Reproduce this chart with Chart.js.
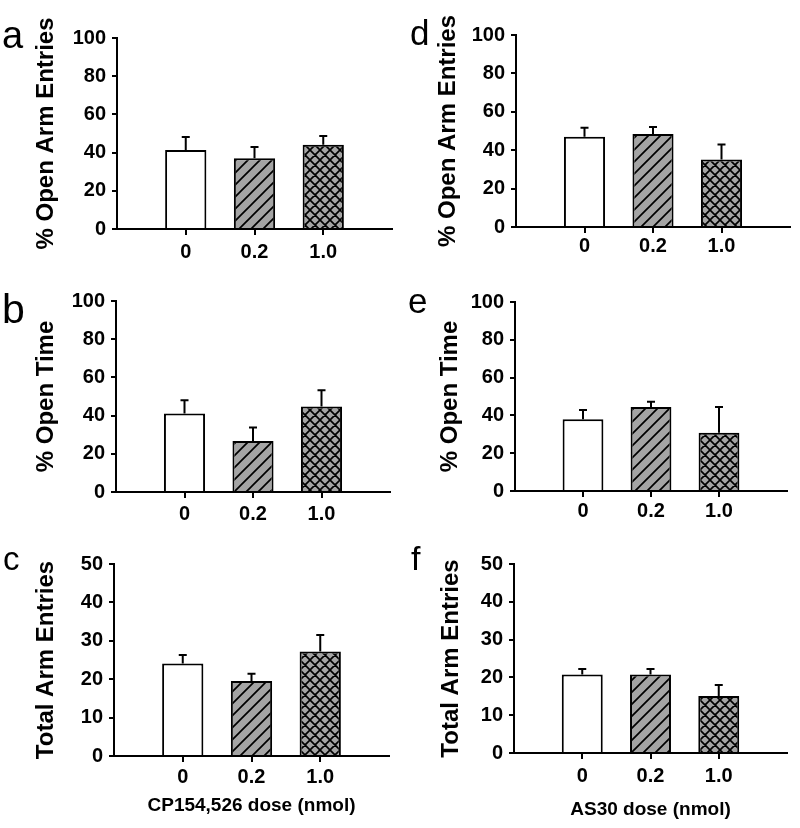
<!DOCTYPE html>
<html>
<head>
<meta charset="utf-8">
<script src="https://cdn.jsdelivr.net/npm/chart.js@4.4.1/dist/chart.umd.min.js"></script>
<style>
  body { margin: 0; background: #fff; }
  #page { position: relative; width: 800px; height: 828px; overflow: hidden; }
  canvas { position: absolute; }
  .lbl { position: absolute; font-family: 'Liberation Sans', Arial, sans-serif; line-height: 1; color: #000; }
</style>
</head>
<body>
<div id="page">
  <canvas id="chartA" width="400" height="270" style="left:0;top:0"></canvas>
  <canvas id="chartD" width="400" height="270" style="left:400px;top:0"></canvas>
  <canvas id="chartB" width="400" height="270" style="left:0;top:270px"></canvas>
  <canvas id="chartE" width="400" height="270" style="left:400px;top:270px"></canvas>
  <canvas id="chartC" width="400" height="288" style="left:0;top:540px"></canvas>
  <canvas id="chartF" width="400" height="288" style="left:400px;top:540px"></canvas>
  <div class="lbl" style="left:2px;top:16px;font-size:38px">a</div>
  <div class="lbl" style="left:410px;top:15px;font-size:35px">d</div>
  <div class="lbl" style="left:2px;top:289px;font-size:41px">b</div>
  <div class="lbl" style="left:408px;top:283px;font-size:35px">e</div>
  <div class="lbl" style="left:3px;top:542px;font-size:33px">c</div>
  <div class="lbl" style="left:411px;top:541px;font-size:34px">f</div>
</div>
<script>
// dose groups (empty slots pad the axis on both sides)
var doseLabels = ['', '0', '0.2', '1.0', ''];

// CP154,526 (left column)
var openEntriesCP = [41.4, 37.0, 44.1];
var openEntriesCPSem = [6.8, 5.9, 4.6];
var openTimeCP = [41.1, 26.7, 44.8];
var openTimeCPSem = [7.0, 7.1, 8.5];
var totalEntriesCP = [24.1, 19.5, 27.2];
var totalEntriesCPSem = [2.2, 1.9, 4.3];

// AS30 (right column)
var openEntriesAS = [47.0, 48.4, 35.2];
var openEntriesASSem = [4.7, 3.7, 7.8];
var openTimeAS = [37.9, 44.4, 30.8];
var openTimeASSem = [5.0, 2.8, 13.7];
var totalEntriesAS = [20.8, 20.8, 15.1];
var totalEntriesASSem = [1.4, 1.4, 2.9];

var GRAY = '#a4a4a4';

function makePattern(size, cross) {
    var c = document.createElement('canvas');
    c.width = size; c.height = size;
    var g = c.getContext('2d');
    g.fillStyle = GRAY;
    g.fillRect(0, 0, size, size);
    g.strokeStyle = '#000';
    g.lineWidth = 1.7;
    g.beginPath();
    g.moveTo(0, size); g.lineTo(size, 0);
    g.moveTo(-1, 1); g.lineTo(1, -1);
    g.moveTo(size - 1, size + 1); g.lineTo(size + 1, size - 1);
    if (cross) {
        g.moveTo(0, 0); g.lineTo(size, size);
        g.moveTo(-1, size - 1); g.lineTo(1, size + 1);
        g.moveTo(size - 1, -1); g.lineTo(size + 1, 1);
    }
    g.stroke();
    return g.createPattern(c, 'repeat');
}

var diagFill = makePattern(12, false);
var crossFill = makePattern(10, true);

// upper error bars with a small cap
var errorBars = {
    id: 'errorBars',
    afterDatasetsDraw: function (chart) {
        var ctx = chart.ctx;
        var yScale = chart.scales.y;
        var ds = chart.data.datasets[0];
        var meta = chart.getDatasetMeta(0);
        ctx.save();
        ctx.strokeStyle = '#000';
        ctx.lineWidth = 2;
        meta.data.forEach(function (bar, i) {
            var v = ds.data[i];
            if (v == null) return;
            var yTop = yScale.getPixelForValue(v + ds.errors[i]);
            ctx.beginPath();
            ctx.moveTo(bar.x, bar.y);
            ctx.lineTo(bar.x, yTop);
            ctx.moveTo(bar.x - 4, yTop);
            ctx.lineTo(bar.x + 4, yTop);
            ctx.stroke();
        });
        ctx.restore();
    }
};

Chart.defaults.font.family = "'Liberation Sans', Arial, sans-serif";
Chart.defaults.font.weight = 'bold';
Chart.defaults.font.size = 20;
Chart.defaults.color = '#000';

var panels = [
    { id: 'chartA', h: 270, means: openEntriesCP, errs: openEntriesCPSem, title: '% Open Arm Entries', max: 100, step: 20,
      axisX: 117, areaTop: 38, areaBottom: 229, areaRight: 392, titleX: 46, tickPad: 5 },
    { id: 'chartD', h: 270, means: openEntriesAS, errs: openEntriesASSem, title: '% Open Arm Entries', max: 100, step: 20,
      axisX: 116, areaTop: 35, areaBottom: 227, areaRight: 390, titleX: 48.5, tickPad: 1 },
    { id: 'chartB', h: 270, means: openTimeCP, errs: openTimeCPSem, title: '% Open Time', max: 100, step: 20,
      axisX: 116, areaTop: 31, areaBottom: 222, areaRight: 390, titleX: 46.5, tickPad: 4 },
    { id: 'chartE', h: 270, means: openTimeAS, errs: openTimeASSem, title: '% Open Time', max: 100, step: 20,
      axisX: 115, areaTop: 32, areaBottom: 221, areaRight: 387, titleX: 50, tickPad: 2 },
    { id: 'chartC', h: 288, means: totalEntriesCP, errs: totalEntriesCPSem, title: 'Total Arm Entries', max: 50, step: 10,
      axisX: 114, areaTop: 24, areaBottom: 216, areaRight: 389, titleX: 46.5, tickPad: 3.5,
      xTitle: 'CP154,526 dose (nmol)', xTitlePad: 10.5 },
    { id: 'chartF', h: 288, means: totalEntriesAS, errs: totalEntriesASSem, title: 'Total Arm Entries', max: 50, step: 10,
      axisX: 114, areaTop: 24, areaBottom: 213, areaRight: 387, titleX: 51.5, tickPad: 5,
      xTitle: 'AS30 dose (nmol)', xTitlePad: 6.5 }
];

panels.forEach(function (p) {
    var ctx = document.getElementById(p.id).getContext('2d');
    new Chart(ctx, {
        type: 'bar',
        data: {
            labels: doseLabels,
            datasets: [{
                data: [null].concat(p.means, [null]),
                errors: [null].concat(p.errs, [null]),
                backgroundColor: ['#fff', '#fff', diagFill, crossFill, '#fff'],
                borderColor: '#000',
                borderWidth: 2,
                borderSkipped: 'start',
                barPercentage: 0.6,
                categoryPercentage: 1
            }]
        },
        options: {
            responsive: false,
            animation: false,
            layout: { padding: { top: p.areaTop, left: 0, right: 400 - p.areaRight, bottom: 0 } },
            plugins: { legend: { display: false }, tooltip: { enabled: false } },
            scales: {
                x: {
                    offset: false,
                    grid: {
                        offset: false,
                        drawOnChartArea: false,
                        tickLength: 6,
                        lineWidth: 2,
                        color: function (c) { return (c.index === 0 || c.index === 4) ? 'rgba(0,0,0,0)' : '#000'; }
                    },
                    border: { color: '#000', width: 2 },
                    ticks: { padding: p.tickPad, maxRotation: 0, autoSkip: false },
                    title: {
                        display: !!p.xTitle,
                        text: p.xTitle || '',
                        font: { size: 19, weight: 'bold' },
                        padding: { top: 0, bottom: p.xTitlePad || 0 }
                    },
                    afterFit: function (s) { s.height = p.h - p.areaBottom; }
                },
                y: {
                    min: 0,
                    max: p.max,
                    grid: { drawOnChartArea: false, tickLength: 5, lineWidth: 2, color: '#000' },
                    border: { color: '#000', width: 2 },
                    ticks: { stepSize: p.step, padding: 6 },
                    title: {
                        display: true,
                        text: p.title,
                        font: { size: 24, weight: 'bold' },
                        padding: { top: p.titleX - 14.4, bottom: 0 }
                    },
                    afterFit: function (s) { s.width = p.axisX; }
                }
            }
        },
        plugins: [errorBars]
    });
});
</script>
</body>
</html>
